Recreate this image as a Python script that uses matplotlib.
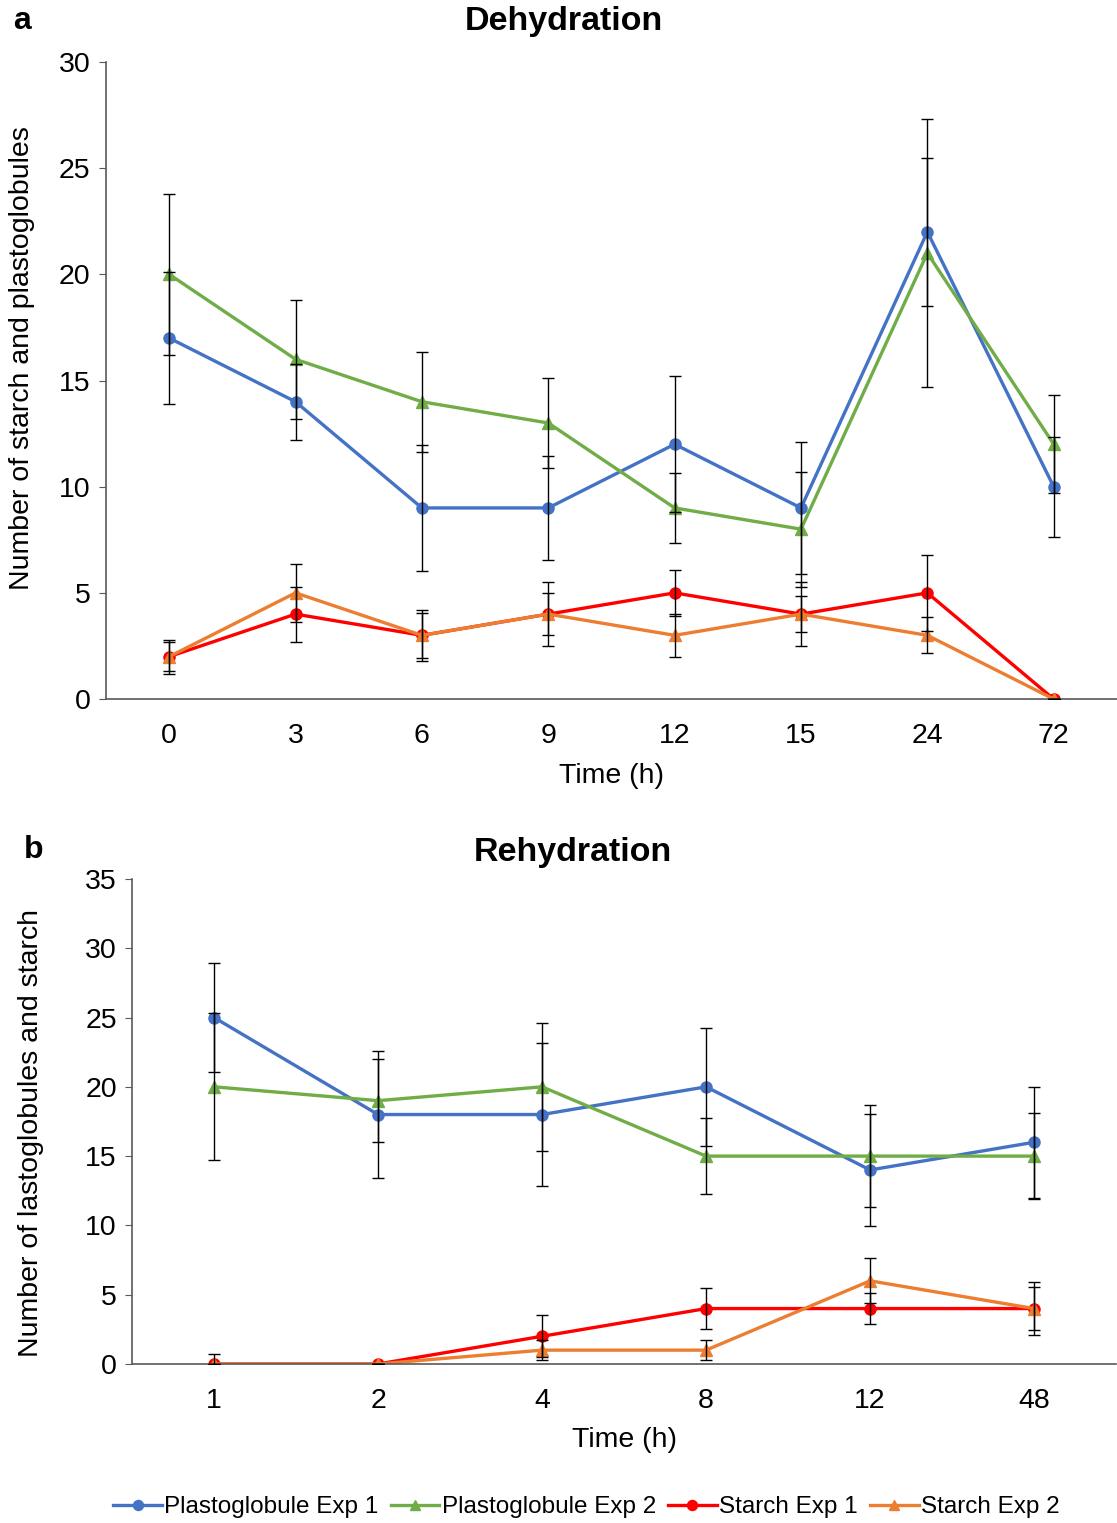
import matplotlib
matplotlib.use("Agg")
import matplotlib.pyplot as plt

plt.rcParams['font.family'] = ['Liberation Sans', 'DejaVu Sans']

# panel a - dehydration
dehy_times = ['0', '3', '6', '9', '12', '15', '24', '72']
dehy_pg1 = [17, 14, 9, 9, 12, 9, 22, 10]
dehy_pg1_err = [3.1, 1.8, 2.95, 2.45, 3.2, 3.1, 3.5, 2.35]
dehy_pg2 = [20, 16, 14, 13, 9, 8, 21, 12]
dehy_pg2_err = [3.8, 2.8, 2.35, 2.1, 1.65, 2.7, 6.3, 2.3]
dehy_st1 = [2, 4, 3, 4, 5, 4, 5, 0]
dehy_st1_err = [0.8, 1.3, 1.2, 1.5, 1.1, 1.5, 1.8, 0]
dehy_st2 = [2, 5, 3, 4, 3, 4, 3, 0]
dehy_st2_err = [0.7, 1.35, 1.05, 1.0, 1.0, 0.85, 0.85, 0]

# panel b - rehydration
rehy_times = ['1', '2', '4', '8', '12', '48']
rehy_pg1 = [25, 18, 18, 20, 14, 16]
rehy_pg1_err = [3.95, 4.6, 5.15, 4.27, 4.05, 4.0]
rehy_pg2 = [20, 19, 20, 15, 15, 15]
rehy_pg2_err = [5.3, 3.0, 4.6, 2.75, 3.66, 3.13]
rehy_st1 = [0, 0, 2, 4, 4, 4]
rehy_st1_err = [0.7, 0, 1.5, 1.5, 1.1, 1.94]
rehy_st2 = [0, 0, 1, 1, 6, 4]
rehy_st2_err = [0, 0, 0.7, 0.7, 1.63, 1.56]

labels = ['Plastoglobule Exp 1', 'Plastoglobule Exp 2', 'Starch Exp 1', 'Starch Exp 2']
colors = ['#4472C4', '#70AD47', '#FF0000', '#ED7D31']
markers = ['o', '^', 'o', '^']

fig = plt.figure(figsize=(11.17, 15.23), dpi=100)
ax1 = fig.add_axes([0.0949, 0.541, 0.905, 0.4183])
ax2 = fig.add_axes([0.1182, 0.1044, 0.881, 0.3185])


def draw_panel(ax, times, series, errs, ymax, step):
    x = list(range(len(times)))
    handles = []
    for vals, err, c, m, lab in zip(series, errs, colors, markers, labels):
        ax.errorbar(x, vals, yerr=err, fmt='none', ecolor='black', elinewidth=1,
                    capsize=4, capthick=1, zorder=3)
        h, = ax.plot(x, vals, color=c, marker=m, markersize=8, linewidth=2.4,
                     label=lab, zorder=2)
        handles.append(h)
    ax.set_xlim(-0.5, len(times) - 0.5)
    ax.set_ylim(0, ymax)
    ax.set_yticks(range(0, ymax + 1, step))
    ax.set_xticks(x)
    ax.set_xticklabels(times)
    ax.tick_params(axis='x', length=0, labelsize=20.5, pad=17)
    ax.tick_params(axis='y', length=5, color='#595959', labelsize=20.5, pad=6)
    for s in ['top', 'right']:
        ax.spines[s].set_visible(False)
    for s in ['left', 'bottom']:
        ax.spines[s].set_color('#595959')
        ax.spines[s].set_linewidth(1.2)
    return handles


draw_panel(ax1, dehy_times, [dehy_pg1, dehy_pg2, dehy_st1, dehy_st2],
           [dehy_pg1_err, dehy_pg2_err, dehy_st1_err, dehy_st2_err], 30, 5)
ax1.set_xlabel('Time (h)', fontsize=20.5, labelpad=10)
ax1.set_ylabel('Number of starch and plastoglobules', fontsize=20.5)
ax1.yaxis.set_label_coords(-0.070, 0.535)

handles = draw_panel(ax2, rehy_times, [rehy_pg1, rehy_pg2, rehy_st1, rehy_st2],
                     [rehy_pg1_err, rehy_pg2_err, rehy_st1_err, rehy_st2_err], 35, 5)
ax2.set_xlabel('Time (h)', fontsize=20.5, labelpad=10)
ax2.set_ylabel('Number of lastoglobules and starch', fontsize=20.5)
ax2.yaxis.set_label_coords(-0.089, 0.476)

fig.text(0.505, 0.986, 'Dehydration', fontsize=24.5, fontweight='bold', ha='center', va='center')
fig.text(0.513, 0.44, 'Rehydration', fontsize=24.5, fontweight='bold', ha='center', va='center')
fig.text(0.02, 0.986, 'a', fontsize=23, fontweight='bold', ha='center', va='center')
fig.text(0.03, 0.442, 'b', fontsize=23, fontweight='bold', ha='center', va='center')

fig.legend(handles=handles, loc='center', bbox_to_anchor=(0.525, 0.0105), ncol=4,
           frameon=False, fontsize=17.5, handlelength=2.0, handletextpad=0.1,
           columnspacing=0.5, markerscale=0.9)

fig.savefig('out.png', dpi=100)
